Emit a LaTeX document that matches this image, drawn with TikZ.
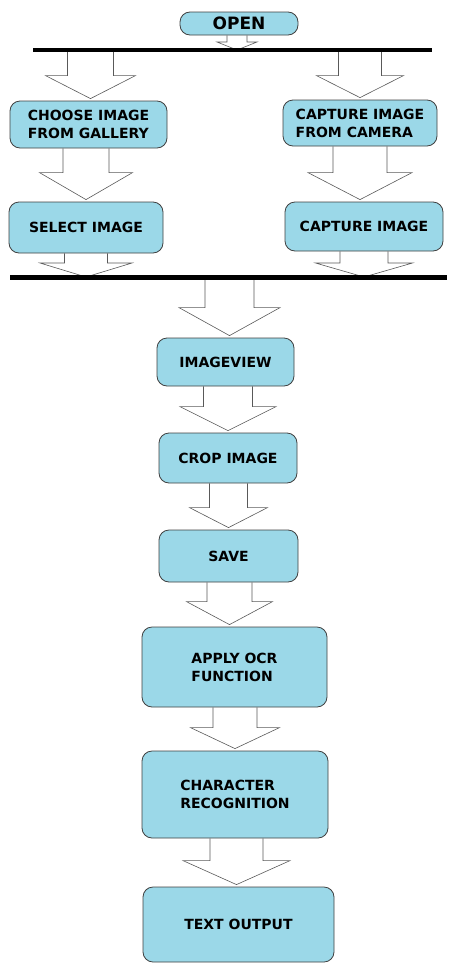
\documentclass[tikz,border=0pt]{standalone}
\usepackage{fontspec}
\setmainfont{DejaVu Sans}
\usepackage{tikz}
\usetikzlibrary{calc}
\definecolor{boxblue}{RGB}{155,216,232}
\tikzset{
  stepbox/.style={draw=black!75, fill=boxblue, rounded corners=10pt, line width=0.8pt,
    inner sep=0pt, align=left, font=\bfseries\fontsize{14}{18}\selectfont},
  blockline/.style={draw=black!65, line width=0.6pt},
  barline/.style={line width=#1}
}
\newcommand\BlockArrow[5]{
  % start, tip, shaft half width, head half width, head length
  \def\sw{#3} \def\hw{#4} \def\hl{#5}
  \draw[blockline] let \p1=#1, \p2=#2 in
    (\x2-\sw pt,\y1) -- (\x2-\sw pt,\y2+\hl pt) -- (\x2-\hw pt,\y2+\hl pt) -- (\p2)
    -- (\x2+\hw pt,\y2+\hl pt) -- (\x2+\sw pt,\y2+\hl pt) -- (\x2+\sw pt,\y1);
}

\begin{document}
\begin{tikzpicture}[x=1pt, y=-1pt]
\useasboundingbox (0,0) rectangle (452,964);

\node[stepbox, minimum width=118pt, minimum height=23pt, font=\bfseries\fontsize{17}{20}\selectfont] (open) at (239,23.5) {OPEN};
\node[stepbox, minimum width=157pt, minimum height=47pt] (choose) at (88.5,124.5) {CHOOSE IMAGE\\FROM GALLERY};
\node[stepbox, minimum width=154pt, minimum height=46pt] (camera) at (360,123) {CAPTURE IMAGE\\FROM CAMERA};
\node[stepbox, minimum width=154pt, minimum height=51pt] (select) at (86,227.5) {SELECT IMAGE};
\node[stepbox, minimum width=158pt, minimum height=49pt] (capture) at (364,226.5) {CAPTURE IMAGE};
\node[stepbox, minimum width=137pt, minimum height=48pt] (imageview) at (225.5,362) {IMAGEVIEW};
\node[stepbox, minimum width=138pt, minimum height=50pt] (crop) at (228,458) {CROP IMAGE};
\node[stepbox, minimum width=139pt, minimum height=52pt] (save) at (228.5,556) {SAVE};
\node[stepbox, minimum width=185pt, minimum height=80pt] (ocr) at (234.5,667) {APPLY OCR\\FUNCTION};
\node[stepbox, minimum width=186pt, minimum height=87pt] (charrec) at (235,794.5) {CHARACTER\\RECOGNITION};
\node[stepbox, minimum width=191pt, minimum height=75pt] (textout) at (238.5,924.5) {TEXT OUTPUT};

\coordinate (bar1w) at (33,50);
\coordinate (bar1e) at (432,50);
\coordinate (bar2w) at (10,277);
\coordinate (bar2e) at (447,277);

\BlockArrow{(open.south)}{([xshift=-2pt]open.south |- bar1w)}{10}{20}{8}
\BlockArrow{(choose.north |- bar1w)}{([xshift=2pt,yshift=2pt]choose.north)}{23}{45}{23}
\BlockArrow{(camera.north |- bar1w)}{([yshift=2pt]camera.north)}{21.5}{43.5}{22}
\BlockArrow{(choose.south)}{([yshift=2pt]select.north)}{23}{46.5}{27}
\BlockArrow{(camera.south)}{([xshift=-4pt,yshift=2pt]capture.north)}{27}{52}{27}
\BlockArrow{(select.south)}{(select.south |- bar2w)}{21.5}{46}{14}
\BlockArrow{(capture.south)}{(capture.south |- bar2w)}{24}{48.5}{14}
\BlockArrow{([xshift=4pt]imageview.north |- bar2w)}{([xshift=4pt,yshift=2pt]imageview.north)}{24.5}{50.5}{28}
\foreach \src/\dst/\shaft/\head/\len/\dx in {imageview/crop/24.5/48/24/0, crop/save/19/39/20/0,
    save/ocr/22.5/43/23/-5, ocr/charrec/22/44.5/21/0, charrec/textout/26.5/53.5/24/-2}
{
  \BlockArrow{(\src.south)}{([xshift=\dx pt,yshift=2pt]\dst.north)}{\shaft}{\head}{\len}
}

\draw[barline=4pt] (bar1w) -- (bar1e);
\draw[barline=5pt] (bar2w) -- (bar2e);
\end{tikzpicture}
\end{document}
